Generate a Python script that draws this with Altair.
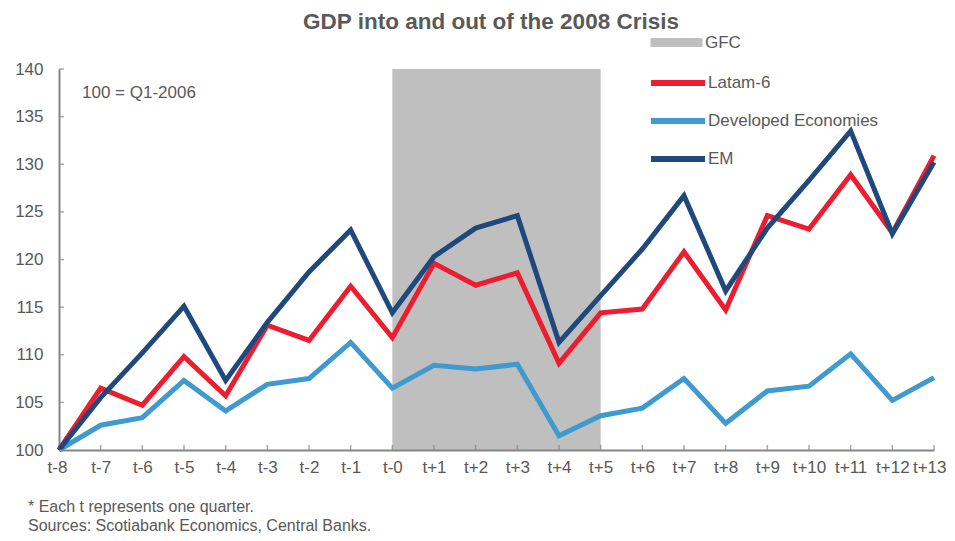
import altair as alt
import pandas as pd

periods = ["t-8", "t-7", "t-6", "t-5", "t-4", "t-3", "t-2", "t-1", "t-0",
           "t+1", "t+2", "t+3", "t+4", "t+5", "t+6", "t+7", "t+8", "t+9",
           "t+10", "t+11", "t+12", "t+13"]

latam6 = [100, 106.5, 104.7, 109.8, 105.7, 113.1, 111.5, 117.2, 111.8,
          119.6, 117.3, 118.6, 109.1, 114.4, 114.8, 120.8, 114.7, 124.6,
          123.2, 128.9, 122.8, 130.9]
developed = [100, 102.6, 103.4, 107.3, 104.1, 106.9, 107.5, 111.3, 106.5,
             108.9, 108.5, 109.0, 101.5, 103.6, 104.4, 107.5, 102.8, 106.2,
             106.7, 110.1, 105.2, 107.6]
em = [100, 105.5, 110.2, 115.1, 107.3, 113.4, 118.7, 123.1, 114.4,
      120.3, 123.3, 124.6, 111.3, 116.2, 121.1, 126.7, 116.7, 123.3,
      128.3, 133.5, 122.7, 130.2]

series_names = ["Latam-6", "Developed Economies", "EM"]
series_colors = ["#ED1C2E", "#3E9ACF", "#1F497D"]
gfc_start, gfc_end = "t-0", "t+5"
y_min, y_max = 100, 140
y_ticks = [100, 105, 110, 115, 120, 125, 130, 135, 140]

rows = []
for name, vals in zip(series_names, [latam6, developed, em]):
    for p, v in zip(periods, vals):
        rows.append({"period": p, "value": v, "series": name})
df = pd.DataFrame(rows)

gfc_df = pd.DataFrame([{"start": gfc_start, "end": gfc_end, "top": y_max,
                        "bottom": y_min, "label": "GFC"}])
xtick_df = pd.DataFrame({"period": periods, "value": [y_min] * len(periods)})
ytick_df = pd.DataFrame({"period": [periods[0]] * len(y_ticks), "value": y_ticks})

TXT = "#595959"
AX = "#868686"
FONT = "Liberation Sans"

xscale = alt.Scale(type="point", domain=periods, padding=0)
yscale = alt.Scale(domain=[y_min, y_max], nice=False, zero=False)

x_axis = alt.Axis(title=None, labelAngle=0, labelFontSize=17, labelFont=FONT,
                  labelColor=TXT, domainColor=AX, domainWidth=2, ticks=False,
                  labelPadding=9, grid=False, labelOverlap=False,
                  labelFlush=True, labelFlushOffset=12)
y_axis = alt.Axis(title=None, values=y_ticks, labelFontSize=17,
                  labelFont=FONT, labelColor=TXT, domainColor=AX, domainWidth=2,
                  ticks=False, labelPadding=16, grid=False)

rect = alt.Chart(gfc_df).mark_rect(color="#BFBFBF").encode(
    x=alt.X("start:O", scale=xscale, axis=x_axis),
    x2="end:O",
    y=alt.Y("top:Q", scale=yscale, axis=y_axis),
    y2="bottom:Q",
    fill=alt.Fill("label:N", scale=alt.Scale(domain=["GFC"], range=["#BFBFBF"]),
                  legend=alt.Legend(title=None, orient="none", legendX=609,
                                    legendY=-35, symbolType="M-4,-0.7H4V0.7H-4Z",
                                    symbolSize=169, symbolStrokeWidth=0,
                                    labelFontSize=17, labelFont=FONT,
                                    labelColor=TXT, labelOffset=20,
                                    labelLimit=300)),
)

xticks = alt.Chart(xtick_df).mark_tick(
    orient="vertical", size=5, thickness=1.5, color=AX, yOffset=-2.5
).encode(x=alt.X("period:O", scale=xscale, axis=x_axis),
         y=alt.Y("value:Q", scale=yscale, axis=y_axis))

yticks = alt.Chart(ytick_df).mark_tick(
    orient="horizontal", size=5, thickness=1.5, color=AX, xOffset=2.5
).encode(x=alt.X("period:O", scale=xscale, axis=x_axis),
         y=alt.Y("value:Q", scale=yscale, axis=y_axis))

stroke_enc = alt.Stroke(
    "series:N",
    scale=alt.Scale(domain=series_names, range=series_colors),
    legend=alt.Legend(title=None, orient="none", legendX=609, legendY=4,
                      symbolType="M-4,0H4", symbolSize=182, symbolStrokeWidth=6,
                      labelFontSize=17, labelFont=FONT, labelColor=TXT,
                      labelOffset=20, rowPadding=14, labelLimit=300),
)

layers = [rect, xticks, yticks]
for name in ["Developed Economies", "Latam-6", "EM"]:
    layers.append(
        alt.Chart(df).transform_filter(alt.datum.series == name)
        .mark_line(strokeWidth=5, strokeJoin="miter", strokeCap="butt")
        .encode(x=alt.X("period:O", scale=xscale, axis=x_axis),
                y=alt.Y("value:Q", scale=yscale, axis=y_axis),
                stroke=stroke_enc)
    )


def text_layer(txt, x, y, size, weight="normal", align="left", baseline="middle"):
    return alt.Chart(pd.DataFrame([{"t": txt}])).mark_text(
        align=align, baseline=baseline, fontSize=size, font=FONT,
        fontWeight=weight, color=TXT
    ).encode(x=alt.value(x), y=alt.value(y), text="t:N")


note = text_layer("100 = Q1-2006", 23, 24, 17)
title = text_layer("GDP into and out of the 2008 Crisis", 432, -40.5, 22.5, "bold",
                   "center", "alphabetic")
foot1 = text_layer("* Each t represents one quarter.", -31, 443, 16, baseline="alphabetic")
foot2 = text_layer("Sources: Scotiabank Economics, Central Banks.", -31, 462, 16,
                   baseline="alphabetic")

chart = alt.layer(*layers, note, title, foot1, foot2).properties(
    width=875, height=381,
    padding={"left": 51, "top": 61, "right": 12, "bottom": 83},
    autosize=alt.AutoSizeParams(type="none"),
).configure_view(stroke=None)

chart.save("out.html", embed_options={"renderer": "svg", "actions": False})
